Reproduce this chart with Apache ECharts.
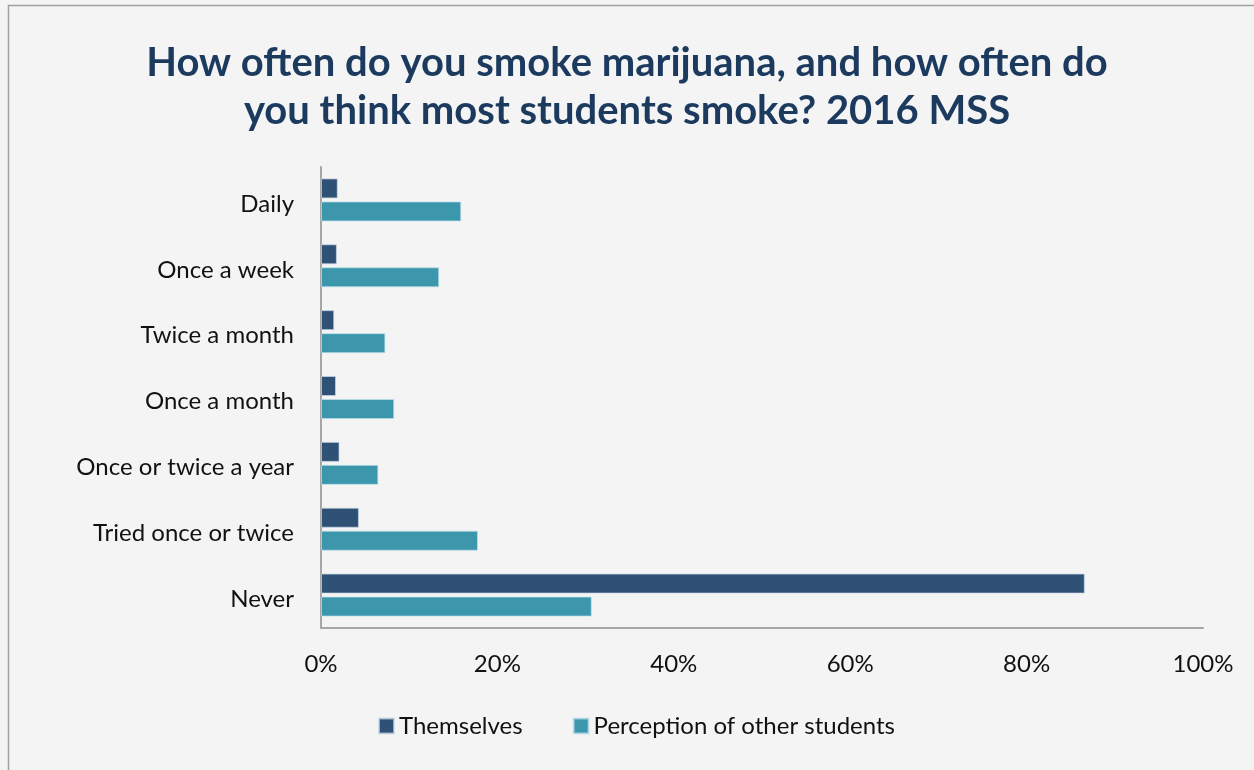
<!DOCTYPE html>
<html>
<head>
<meta charset="utf-8">
<script src="https://cdn.jsdelivr.net/npm/echarts@6/dist/echarts.min.js"></script>
<style>
  html, body { margin: 0; padding: 0; background: #ffffff; }
  #chart { width: 1254px; height: 770px; }
</style>
</head>
<body>
<div id="chart"></div>
<script>
// Frequency of marijuana use: self-reported vs. perceived for most students (2016 MSS)
const categories = ['Daily', 'Once a week', 'Twice a month', 'Once a month', 'Once or twice a year', 'Tried once or twice', 'Never'];
const themselves = [1.9, 1.8, 1.5, 1.7, 2.1, 4.3, 86.6];
const perception = [15.9, 13.4, 7.3, 8.3, 6.5, 17.8, 30.7];
const seriesNames = ['Themselves', 'Perception of other students'];
const xTicks = [0, 20, 40, 60, 80, 100];

const FONT = 'Lato, "Open Sans", sans-serif';

const chart = echarts.init(document.getElementById('chart'), null, { renderer: 'canvas' });

chart.setOption({
  backgroundColor: '#f4f4f4',
  animation: false,
  title: {
    text: 'How often do you smoke marijuana, and how often do\nyou think most students smoke? 2016 MSS',
    left: 'center',
    top: 34,
    textStyle: {
      fontFamily: FONT,
      fontSize: 40,
      fontWeight: 'bold',
      color: '#1b3a5e',
      lineHeight: 48
    }
  },
  legend: {
    data: seriesNames,
    bottom: 27,
    left: 373,
    itemWidth: 15,
    itemHeight: 15,
    itemGap: 50,
    icon: 'rect',
    textStyle: { fontFamily: FONT, fontSize: 24, color: '#111' }
  },
  grid: {
    left: 321,
    right: 51,
    top: 167,
    bottom: 142,
    containLabel: false
  },
  xAxis: {
    type: 'value',
    min: xTicks[0],
    max: xTicks[xTicks.length - 1],
    interval: 20,
    axisLine: { show: true, lineStyle: { color: '#a6a6a6', width: 2 } },
    axisTick: { show: false },
    splitLine: { show: false },
    axisLabel: {
      formatter: '{value}%',
      fontFamily: FONT,
      fontSize: 24,
      color: '#111',
      margin: 24
    }
  },
  yAxis: {
    type: 'category',
    data: categories,
    inverse: true,
    axisLine: { show: true, lineStyle: { color: '#a6a6a6', width: 2 } },
    axisTick: { show: false },
    axisLabel: {
      color: '#111',
      margin: 27,
      formatter: '{v|{value}}',
      rich: {
        v: {
          fontFamily: FONT,
          fontSize: 24,
          color: '#111',
          padding: [8, 0, 0, 0]
        }
      }
    }
  },
  series: [
    {
      name: seriesNames[0],
      type: 'bar',
      data: themselves,
      barWidth: 20,
      barGap: '15%',
      itemStyle: { color: '#2e5175', borderColor: 'rgba(200,215,230,0.7)', borderWidth: 1 }
    },
    {
      name: seriesNames[1],
      type: 'bar',
      data: perception,
      barWidth: 20,
      barGap: '15%',
      itemStyle: { color: '#3c97ad', borderColor: 'rgba(190,225,235,0.7)', borderWidth: 1 }
    }
  ],
  graphic: [
    {
      type: 'rect',
      shape: { x: 8.5, y: 5.5, width: 1300, height: 800 },
      style: { fill: 'none', stroke: '#a0a0a0', lineWidth: 1.5 },
      silent: true
    }
  ]
});
</script>
</body>
</html>
